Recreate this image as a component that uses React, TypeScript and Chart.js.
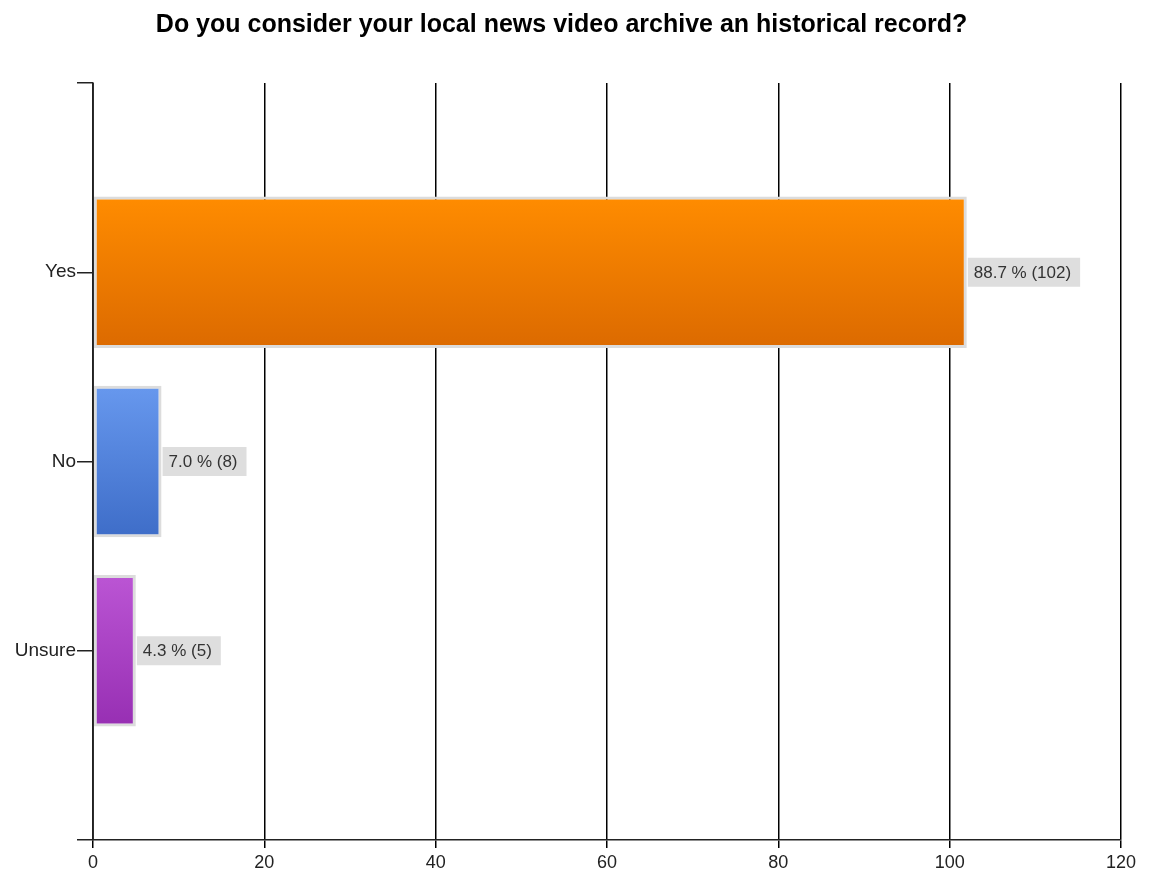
import React, { useEffect, useRef } from "react";
import { Chart, registerables } from "chart.js";

Chart.register(...registerables);

const TITLE = "Do you consider your local news video archive an historical record?";
const categories = ["", "Yes", "No", "Unsure", ""];
const counts: (number | null)[] = [null, 102, 8, 5, null];
const topColors = ["#000000", "#FF8C00", "#6798EE", "#BB55D4"];
const bottomColors = ["#000000", "#DC6A00", "#3E6DC8", "#972FB3"];
const xTicks = [0, 20, 40, 60, 80, 100, 120];

const FONT = "'Liberation Sans', Arial, sans-serif";

export default function App() {
  const ref = useRef<HTMLCanvasElement | null>(null);

  useEffect(() => {
    document.body.style.margin = "0";
    const canvas = ref.current;
    if (!canvas) return;
    const total = counts.reduce((s: number, v) => s + (v ?? 0), 0);

    const labelPlugin = {
      id: "valueLabels",
      afterDatasetsDraw(chart: any) {
        const ctx = chart.ctx;
        const meta = chart.getDatasetMeta(0);
        ctx.save();
        ctx.font = `17px ${FONT}`;
        ctx.textBaseline = "middle";
        meta.data.forEach((bar: any, i: number) => {
          const v = counts[i];
          if (v == null) return;
          const text = `${((v / total) * 100).toFixed(1)} % (${v})`;
          const w = ctx.measureText(text).width;
          const x0 = bar.x + 1;
          const h = 29;
          ctx.fillStyle = "#DEDEDE";
          ctx.fillRect(x0, bar.y - h / 2, w + 15, h);
          ctx.fillStyle = "#333333";
          ctx.fillText(text, x0 + 6, bar.y + 1);
        });
        // redraw axis line over bar borders
        const area = chart.chartArea;
        ctx.strokeStyle = "#222";
        ctx.lineWidth = 1.5;
        ctx.beginPath();
        ctx.moveTo(area.left, area.top);
        ctx.lineTo(area.left, area.bottom);
        ctx.stroke();
        ctx.restore();
      },
      afterDraw(chart: any) {
        const ctx = chart.ctx;
        ctx.save();
        ctx.font = `bold 25px ${FONT}`;
        ctx.fillStyle = "#000";
        ctx.textAlign = "center";
        ctx.textBaseline = "middle";
        ctx.fillText(TITLE, chart.width / 2 - 15, 25);
        ctx.restore();
      },
    };

    const gradientFor = (context: any, colorsA: string[], colorsB: string[]) => {
      const chart = context.chart;
      const area = chart.chartArea;
      const i = context.dataIndex;
      if (!area || !chart.scales.y) return colorsA[i] || "#999";
      const yScale = chart.scales.y;
      const c = yScale.getPixelForValue(i);
      const half = (yScale.getPixelForValue(1) - yScale.getPixelForValue(0)) * 0.4;
      const g = chart.ctx.createLinearGradient(0, c - half, 0, c + half);
      g.addColorStop(0, colorsA[i] || "#999");
      g.addColorStop(1, colorsB[i] || "#999");
      return g;
    };

    const chart = new Chart(canvas, {
      type: "bar",
      data: {
        labels: categories,
        datasets: [
          {
            data: counts,
            backgroundColor: (ctx: any) => gradientFor(ctx, topColors, bottomColors),
            borderColor: "#DCDCDC",
            borderWidth: 3,
            borderSkipped: false,
            categoryPercentage: 0.8,
            barPercentage: 1.0,
          },
        ],
      },
      plugins: [labelPlugin],
      options: {
        indexAxis: "y",
        animation: false,
        responsive: false,
        maintainAspectRatio: false,
        layout: { padding: { top: 83, right: 32, left: 0, bottom: 0 } },
        plugins: {
          legend: { display: false },
          title: { display: false },
          tooltip: { enabled: false },
        },
        scales: {
          x: {
            type: "linear",
            min: 0,
            max: 120,
            afterBuildTicks: (axis: any) => {
              axis.ticks = xTicks.map((v) => ({ value: v }));
            },
            afterFit: (axis: any) => {
              axis.height = 34;
            },
            grid: {
              color: "#000",
              lineWidth: 1.5,
              tickLength: 8,
              drawTicks: true,
            },
            border: { display: true, color: "#222", width: 1.5 },
            ticks: {
              color: "#222",
              font: { family: FONT, size: 18 },
              padding: 4,
              maxRotation: 0,
            },
          },
          y: {
            type: "category",
            offset: false,
            afterFit: (axis: any) => {
              axis.width = 93;
            },
            grid: {
              offset: false,
              drawOnChartArea: false,
              drawTicks: true,
              tickLength: 16,
              color: "#222",
              lineWidth: 1.5,
            },
            border: { display: true, color: "#222", width: 1.5 },
            ticks: {
              color: "#222",
              font: { family: FONT, size: 19 },
              padding: 1,
              autoSkip: false,
            },
          },
        },
      },
    });
    return () => chart.destroy();
  }, []);

  return <canvas ref={ref} width={1153} height={874} style={{ display: "block" }} />;
}
